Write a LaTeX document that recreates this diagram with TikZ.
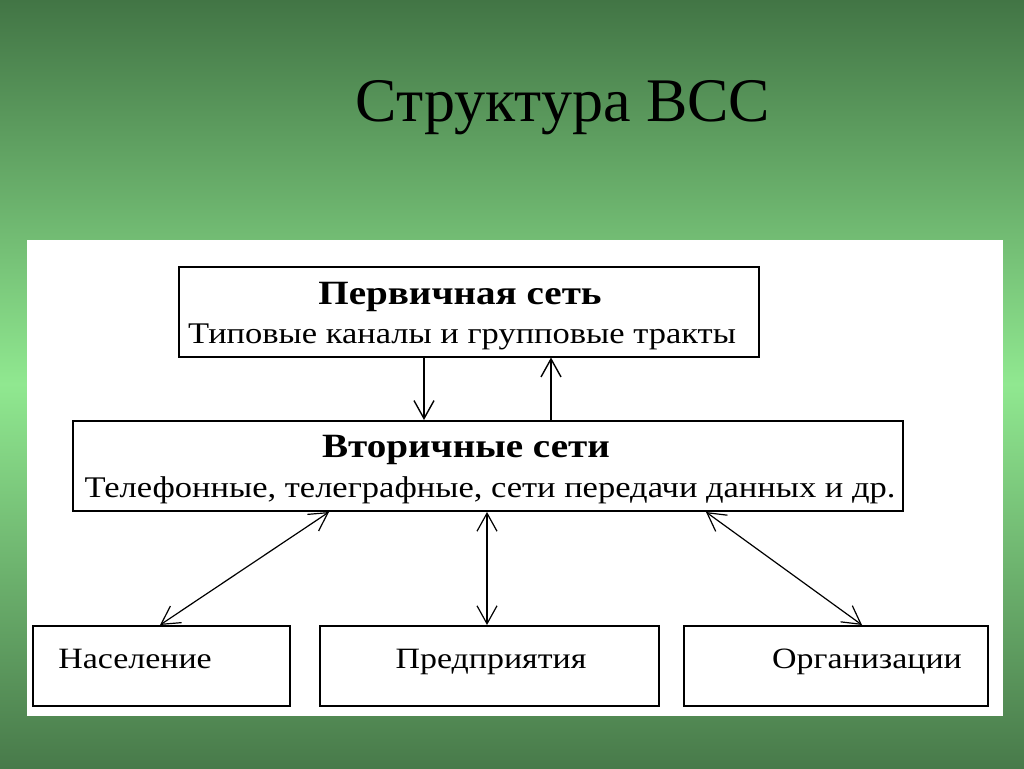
\documentclass[tikz,border=0pt]{standalone}
\usepackage{fontspec}
\setmainfont{Liberation Serif}
\newfontfamily\boxfont{Liberation Serif}[FakeStretch=1.15]
\usetikzlibrary{arrows.meta}
\definecolor{bgdark}{RGB}{66,117,69}
\definecolor{bglight}{RGB}{144,232,144}
\definecolor{bgbottom}{RGB}{72,122,74}
\tikzset{
  netbox/.style={draw,line width=2pt,minimum width=#1,minimum height=90pt,inner sep=0pt},
  userbox/.style={draw,line width=2pt,minimum width=#1,minimum height=80pt,inner sep=0pt},
  headtext/.style={anchor=base,font=\boxfont\bfseries\fontsize{34}{40}\selectfont},
  bodytext/.style={anchor=base,font=\boxfont\fontsize{30}{36}\selectfont},
  usertext/.style={anchor=base,font=\boxfont\fontsize{29.5}{34}\selectfont},
  link/.style={line width=1.4pt,-{Straight Barb[length=18pt,width=20pt]}},
  dlink/.style={line width=1.2pt,{Straight Barb[length=18pt,width=20pt]}-{Straight Barb[length=18pt,width=20pt]}}
}
\begin{document}
\begin{tikzpicture}[x=1pt,y=-1pt]
      \useasboundingbox (0,0) rectangle (1024,768);
      \shade[top color=bgdark,bottom color=bglight] (0,0) rectangle (1024,384);
      \shade[top color=bglight,bottom color=bgbottom] (0,384) rectangle (1024,768);
      \fill[white] (27,240) rectangle (1003,716);
      \node[anchor=base,font=\fontsize{62}{70}\selectfont] (title) at (563,121) {Структура ВСС};
      % boxes
      \node[netbox=580pt] (prim) at (469,311.5) {};
      \node[netbox=830pt] (sec) at (488,466) {};
      \node[userbox=257pt] (pop) at (161.5,666) {};
      \node[userbox=339pt] (ent) at (489.5,666) {};
      \node[userbox=304pt] (org) at (836,666) {};
      % texts
      \node[headtext] (primhead) at (460,304) {Первичная сеть};
      \node[bodytext] (primbody) at (462,343) {Типовые каналы и групповые тракты};
      \node[headtext] (sechead) at (466,457) {Вторичные сети};
      \node[bodytext] (secbody) at (490,497) {Телефонные, телеграфные, сети передачи данных и др.};
      \node[usertext] (poptext) at (135,668) {Население};
      \node[usertext] (enttext) at (491,668) {Предприятия};
      \node[usertext] (orgtext) at (867,668) {Организации};
      % connectors
      \coordinate (d1) at (424,0);
      \coordinate (u1) at (551,0);
      \coordinate (l1) at (329,0);
      \coordinate (l2) at (160,0);
      \coordinate (m1) at (487,0);
      \coordinate (r1) at (706,0);
      \coordinate (r2) at (862,0);
      \draw[link] (prim.south -| d1) -- (sec.north -| d1);
      \draw[link] (sec.north -| u1) -- (prim.south -| u1);
      \draw[dlink] (sec.south -| l1) -- (pop.north -| l2);
      \draw[dlink] (sec.south -| m1) -- (ent.north -| m1);
      \draw[dlink] (sec.south -| r1) -- (org.north -| r2);
    \end{tikzpicture}
\end{document}
